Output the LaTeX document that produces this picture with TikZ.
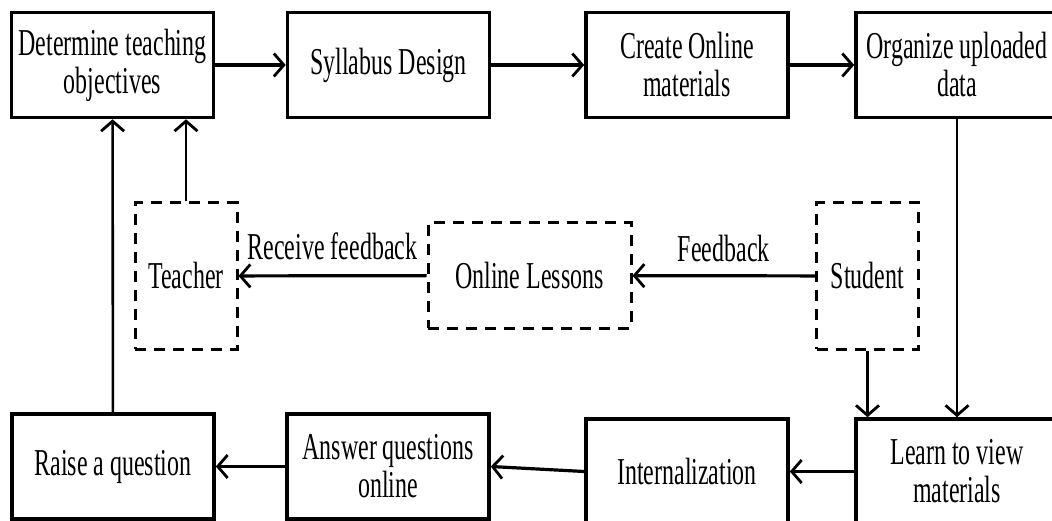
\documentclass[tikz,border=0pt]{standalone}
\usepackage{fontspec}
\setmainfont{Liberation Serif}[FakeStretch=0.63]
\usetikzlibrary{arrows.meta}
\tikzset{
  stage/.style = {rectangle, draw=black, line width=3.6pt, fill=white,
                  minimum width=202pt, minimum height=105pt, align=center,
                  font=\fontsize{38}{38}\selectfont, inner sep=2pt},
  actor/.style = {rectangle, draw=black, line width=3pt, dash pattern=on 11pt off 8pt,
                  minimum width=102pt, minimum height=146pt, align=center,
                  font=\fontsize{38}{38}\selectfont, inner sep=2pt},
  arr/.style   = {-{Straight Barb[length=10pt,width=23pt,line width=2.8pt]}, line width=3.2pt, draw=black},
  varr/.style  = {arr, line width=2.6pt},
  lbl/.style   = {font=\fontsize{38}{38}\selectfont, inner sep=0pt}
}

\begin{document}
\begin{tikzpicture}[x=1pt, y=-1pt]
  \useasboundingbox (0,0) rectangle (1052,521);
  % top row
  \node[stage] (obj)  at (112.5,65) {Determine teaching\\objectives};
  \node[stage] (syl)  at (388.5,65) {Syllabus Design};
  \node[stage] (mat)  at (687,65)   {Create Online\\materials};
  \node[stage] (org)  at (957,65)   {Organize uploaded\\data};
  % middle row
  \node[actor] (tea)  at (186,276)  {Teacher};
  \node[actor, minimum width=203pt, minimum height=105pt] (les) at (529.5,275.5) {Online Lessons};
  \node[actor] (stu)  at (867.5,276) {Student};
  % bottom row
  \node[stage] (ask)  at (113,466.5) {Raise a question};
  \node[stage] (ans)  at (388,466.5) {Answer questions\\online};
  \node[stage] (int)  at (687,471.5) {Internalization};
  \node[stage] (lrn)  at (957,471.5) {Learn to view\\materials};
  % connectors
  \draw[arr] (obj)--(syl); \draw[arr] (syl)--(mat); \draw[arr] (mat)--(org);
  \draw[varr] (org)--(lrn);
  \draw[varr] (stu.south)--(stu.south |- lrn.north);
  \draw[arr] (lrn)--(int); \draw[arr] (int.west)--(ans.east); \draw[arr] (ans)--(ask);
  \draw[varr] (ask)--(obj);
  \draw[varr] (tea.north)--(tea.north |- obj.south);
  \draw[arr] (stu)--(les) node[lbl, midway, above=12pt] {Feedback};
  \draw[arr] (les)--(tea) node[lbl, midway, above=14pt] {Receive feedback};
\end{tikzpicture}
\end{document}
